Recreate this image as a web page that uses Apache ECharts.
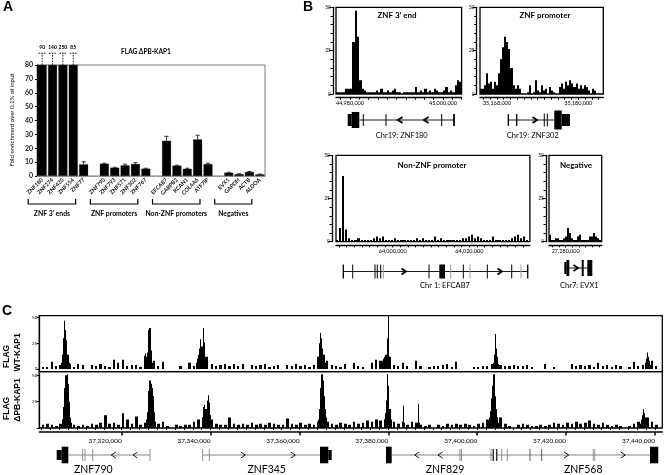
<!DOCTYPE html>
<html><head><meta charset="utf-8">
<script src="https://cdn.jsdelivr.net/npm/echarts@6/dist/echarts.min.js"></script>
<style>html,body{margin:0;padding:0;background:#fff}#c{width:664px;height:475px}</style>
</head><body><div id="c"></div>
<script>
const FONT = 'Lato, "Open Sans", sans-serif';
const ARIAL = '"Liberation Sans", Arial, sans-serif';

// ---------- Panel A data ----------
const aCategories = ['ZNF180','ZNF274','ZNF420','ZNF554','ZNF77',' ','ZNF790','ZNF793','ZNF571','ZNF302','ZNF767','  ','EFCAB7','GABPB2','RCAN1','COL4A6','ATF7IP','   ','EVX1','GAPDH','ACTB','ALDOA'];
const aValues = [90,140,250,85,8.4,'-',8.9,6,7.7,8.7,5.3,'-',25.4,7.5,5.2,26.4,8.6,'-',2.4,1.4,2.9,1.2];
const aErrors = [0,0,0,0,1.8,0,0.3,0.3,0.8,0.9,0.3,0,3.2,0.3,0.4,3.0,0.6,0,0.3,0.2,0.3,0.2];
const aGroupNames = ['ZNF 3\u2019 ends','ZNF promoters','Non-ZNF promoters','Negatives'];
const aGroupRanges = [[0,4],[6,10],[12,16],[18,21]];
const aAxisMax = 80;

// ---------- Panel B data (signal 0-50, bins) ----------
const b1Start = 44977000, b1Bin = 500;
const b1Values = [1,1,1,1,3,3,3,30,48,33,8,3,2,1,1,1,1,2,1,3,1,1,2,1,2,3,1,1,0,1,1,1,1,1,4,1,2,1,3,1,2,1,3,2,1,1,2,4,1,2,1,5,8,7];
const b2Start = 35165500, b2Bin = 300;
const b2Values = [3,3,5,12,6,7,3,7,5,12,20,27,33,30,26,15,5,3,5,3,0,0,0,1,5,0,1,8,2,1,5,2,3,0,4,2,1,0,0,4,6,3,7,5,8,6,4,6,3,5,3,5,4,2,0,3,2,0,0,0,0];
const b3Start = 63985200, b3Bin = 800;
const b3Values = [1,8,38,7,2,1,1,2,1,1,1,1,2,3,2,3,1,1,1,2,1,1,1,1,1,1,2,1,2,1,1,1,3,1,2,1,1,1,1,1,1,2,2,3,4,2,3,2,1,1,1,3,1,1,1,1,1,2,3,4,2,3,1];
const b4Start = 27277500, b4Bin = 300;
const b4Values = [4,1,1,2,2,1,1,2,3,8,5,2,1,1,3,4,1,1,1,1,3,3,5,3,2,1];

// ---------- Panel C data ----------
const cStart = 37302000, cBin = 1000, cPeakStep = 250;
const cWtBackground = [2,2,7,3,4,6,5,2,5,4, 0,4,3,5,3,2,9,6,9,3, 4,4,2,13,12,8,3,7,0,0, 0,3,0,6,3,10,12,12,5,3, 4,5,3,5,3,5,0,4,3,4, 5,2,3,4,0,4,3,5,3,4, 2,4,12,12,8,4,3,2,5,0, 6,3,2,0,6,9,8,12,12,4, 3,6,3,0,8,3,0,2,3,3, 4,5,2,7,0,0,0,2,2,3, 3,5,10,4,3,3,4,3,3,4, 2,0,0,5,0,2,0,0,0,5, 3,4,3,4,2,6,3,4,2,4, 3,0,2,7,3,4,10,8,3];
const cWtPeaks = [
  [37306300,[6,14,30,47,38,28,14,6]],
  [37325000,[8,15,12,16,38,40,18,6]],
  [37336700,[6,10,14,20,29,22,40,26,12,6]],
  [37363900,[5,12,25,35,30,20,14,6,3]],
  [37378600,[8,10,9,14,30,52,12,5]],
  [37403500,[6,14,34,20,12,5,3]],
  [37437700,[6,10,16,12,8,4]]
];
const cDpbBackground = [3,4,3,2,4,6,6,3,2,3, 2,4,3,5,12,4,5,3,14,8, 4,11,3,5,8,8,4,6,2,0, 3,2,3,3,6,8,10,15,8,4, 3,3,10,4,3,4,3,5,3,4, 3,5,4,3,3,9,4,3,5,3, 4,3,6,10,6,4,3,5,4,3, 6,4,5,7,6,8,7,8,10,6, 4,6,3,6,5,3,2,3,0,3, 2,4,3,4,3,4,3,2,4,5, 8,10,10,10,4,2,0,3,4,3, 2,2,3,2,3,5,4,3,5,4, 6,4,5,7,4,3,5,3,2,3, 2,0,2,4,6,8,10,6,3];
const cDpbPeaks = [
  [37306600,[8,20,38,50,51,42,25,10,5]],
  [37325500,[8,15,35,45,42,38,30,15,6]],
  [37338100,[10,20,22,18,26,31,24,12,6]],
  [37364200,[8,18,38,51,45,30,18,10,5]],
  [37379000,[8,14,26,51,40,18,8]],
  [37383000,[6,21,5]],
  [37386400,[4,23,5]],
  [37402400,[6,10,16,28,40,51,30,18,10,5]],
  [37436600,[4,8,12,18,14,10,6,3]]
];

// ---------- Gene models (bp) ----------
const geneZNF180 = [['exon',44979516,44980376,6],['exon',44980376,44982010,8],['line',44982010,45002370],
  ['tick',44982870,44982870,6,1],['tick',44987750,44987750,6,1],['tick',44999725,44999725,6,1],['tick',45002370,45002370,6,1.8],
  ['arrow',44990760,44990760,0,-1],['arrow',44996350,44996350,0,-1]];
const geneZNF302 = [['line',35169677,35176467],['tick',35169677,35169677,6,1.3],['tick',35170917,35170917,6,1.3],
  ['tick',35174990,35174990,6.5,1],['tick',35175433,35175433,6.5,1],
  ['exon',35176467,35177559,9.5],['exon',35177559,35178784,6],['arrow',35173618,35173618,0,1]];
const geneEFCAB7 = [['line',63987105,64035234],['tick',63987105,63987105,7,1.3],['tick',63989559,63989559,7,1],
  ['tick',63995379,63995379,7,1],['tick',63995979,63995979,7,1],['tick',63996867,63996867,7,1],['gtick',63997545,63997545,7,1],
  ['tick',64009473,64009473,7,1],['gtick',64015137,64015137,7,1],['tick',64018425,64018425,7,1],['gtick',64020174,64020174,7,1],
  ['tick',64024689,64024689,7,1],['tick',64031058,64031058,7,1],['gtick',64033485,64033485,7,1],['tick',64035234,64035234,7,1.3],
  ['exon',64012161,64013649,7],['arrow',64002948,64002948,0,1],['arrow',64028004,64028004,0,1]];
const geneEVX1 = [['line',27279795,27283905],['exon',27279795,27280100,6],['exon',27280100,27280545,8],
  ['tick',27282555,27282555,8,2],['exon',27283245,27283995,8],['arrow',27281550,27281550,0,1]];
const geneZNF790 = [['exon',37305375,37306500,5],['exon',37306500,37307985,8.3],['line',37307985,37326368],
  ['gtick',37311225,37311225,6,0.8],['gtick',37311743,37311743,6,0.8],['gtick',37313475,37313475,6,0.8],['gtick',37326368,37326368,6,0.8],
  ['arrow',37318110,37318110,0,-1],['arrow',37322993,37322993,0,-1]];
const geneZNF345 = [['line',37338225,37364618],['gtick',37338225,37338225,6,0.8],['gtick',37339710,37339710,6,0.8],
  ['arrow',37347360,37347360,0,1],['arrow',37358610,37358610,0,1],['exon',37364618,37366485,8.3],['exon',37366485,37367250,5]];
const geneZNF829 = [['exon',37379468,37380750,8.3],['line',37380750,37403610],['arrow',37386375,37386375,0,-1],['arrow',37391618,37391618,0,-1],
  ['gtick',37396118,37396118,6,0.8],['gtick',37396455,37396455,6,0.8],['gtick',37403093,37403093,6,0.8],['tick',37403610,37403610,6,1.5]];
const geneZNF568 = [['line',37404375,37438868],['tick',37404375,37404375,6,1.5],['gtick',37405500,37405500,6,0.8],['gtick',37406760,37406760,6,0.8],
  ['tick',37411868,37411868,6,0.8],['tick',37414500,37414500,6,0.8],['gtick',37426110,37426110,6,0.8],['gtick',37426448,37426448,6,0.8],
  ['arrow',37420125,37420125,0,1],['arrow',37432860,37432860,0,1],['exon',37438868,37440735,8.3]];
const cGeneNames = ['ZNF790','ZNF345','ZNF829','ZNF568'];
const cGeneNamePos = [37313610,37352625,37392743,37423860];

// ---------- axis ranges & tick labels ----------
const b1Range = [44977000,45004000], b1Labels = [44980000,45000000];
const b2Range = [35165500,35183700], b2Labels = [35168000,35180000];
const b3Range = [63985200,64035800], b3Labels = [64000000,64020000];
const b4Range = [27277500,27285400], b4Labels = [27280000];
const cRange = [37301460,37441640], cLabels = [37320000,37340000,37360000,37380000,37400000,37420000,37440000];

function ticksEvery(r, step){ const out=[]; for(let v=Math.ceil(r[0]/step)*step; v<=r[1]; v+=step) out.push(v); return out; }
const fmt = v => String(v).replace(/\B(?=(\d{3})+(?!\d))/g, ',');

const chart = echarts.init(document.getElementById('c'));

const frame = {show:true, borderColor:'#000', borderWidth:1.3, backgroundColor:'transparent'};
const grids = [
  {left:37, top:65, width:228, height:111, show:true, borderColor:'#555', borderWidth:0.8},
  Object.assign({left:336, top:7.3, width:125.6, height:86.7}, frame),
  Object.assign({left:480, top:7.3, width:123.3, height:86.7}, frame),
  Object.assign({left:336, top:155.3, width:193.9, height:86.4}, frame),
  Object.assign({left:549, top:155.3, width:52.7, height:86.4}, frame),
  Object.assign({left:39.3, top:315.6, width:623, height:56.1}, frame),
  Object.assign({left:39.3, top:371.7, width:623, height:56.3}, frame),
  {left:336, top:110, width:125.6, height:20},
  {left:480, top:110, width:123.3, height:20},
  {left:336, top:261.5, width:193.9, height:20},
  {left:549, top:258, width:52.7, height:20},
  {left:39.3, top:445, width:623, height:20}
];

function bX(gi, r, labels, step){
  return {type:'value', gridIndex:gi, min:r[0], max:r[1], position:'bottom', offset:3.7,
    axisLine:{show:true, onZero:false, lineStyle:{color:'#000', width:1.3}},
    axisTick:{show:true, length:2, customValues:ticksEvery(r, step), lineStyle:{color:'#000', width:1}},
    axisLabel:{show:true, customValues:labels, formatter:fmt, fontSize:5.5, margin:2.5, fontFamily:FONT, color:'#000'},
    splitLine:{show:false}};
}
function hiddenX(gi, r){ return {type:'value', gridIndex:gi, min:r[0], max:r[1], show:false, splitLine:{show:false}}; }
function bY(gi, off){
  return {type:'value', gridIndex:gi, min:0, max:50, interval:25, offset:off,
    axisLine:{show:true, lineStyle:{color:'#000', width:1.3}},
    axisTick:{show:true, length:4, lineStyle:{color:'#000', width:1}},
    minorTick:{show:true, splitNumber:5, length:2.5, lineStyle:{color:'#000', width:1}},
    axisLabel:{fontSize:5, margin:2, fontFamily:FONT, color:'#000'},
    splitLine:{show:false}, minorSplitLine:{show:false}};
}
function hiddenY(gi){ return {type:'value', gridIndex:gi, min:-1, max:1, show:false, splitLine:{show:false}}; }

const xAxes = [
  {type:'category', gridIndex:0, data:aCategories, axisLine:{lineStyle:{color:'#999', width:1}}, axisTick:{show:false},
    axisLabel:{rotate:45, interval:0, fontSize:5.5, fontWeight:'bold', margin:3, fontFamily:FONT, color:'#111'}},
  bX(1, b1Range, b1Labels, 2000),
  bX(2, b2Range, b2Labels, 1000),
  bX(3, b3Range, b3Labels, 2000),
  bX(4, b4Range, b4Labels, 1000),
  hiddenX(5, cRange),
  {type:'value', gridIndex:6, min:cRange[0], max:cRange[1], position:'bottom', offset:4,
    axisLine:{show:true, onZero:false, lineStyle:{color:'#000', width:1.5}},
    axisTick:{show:true, length:3.5, customValues:cLabels, lineStyle:{color:'#000', width:1.5}},
    axisLabel:{show:true, customValues:cLabels, formatter:fmt, align:'right', fontSize:6.5, margin:5, fontFamily:FONT, color:'#000'},
    splitLine:{show:false}},
  hiddenX(7, b1Range), hiddenX(8, b2Range), hiddenX(9, b3Range), hiddenX(10, b4Range), hiddenX(11, cRange),
  {type:'value', gridIndex:6, min:cRange[0], max:cRange[1], position:'bottom', offset:4,
    axisLine:{show:false}, axisTick:{show:true, length:2, customValues:ticksEvery(cRange, 2000), lineStyle:{color:'#000', width:1}},
    axisLabel:{show:false}, splitLine:{show:false}}
];
const yAxes = [
  {type:'value', gridIndex:0, min:0, max:aAxisMax, interval:10,
    axisLine:{show:true, lineStyle:{color:'#000', width:1}}, axisTick:{show:true, length:2, lineStyle:{color:'#000'}},
    axisLabel:{fontSize:7, fontWeight:'bold', margin:4, fontFamily:FONT, color:'#222'}, splitLine:{show:false}},
  bY(1,3), bY(2,3.3), bY(3,4), bY(4,3),
  {type:'value', gridIndex:5, min:-2.6, max:52,
    axisLine:{show:true, lineStyle:{color:'#000', width:1.3}},
    axisTick:{show:true, length:2.5, customValues:[0,25,50], lineStyle:{color:'#000'}},
    axisLabel:{customValues:[0,25,50], fontSize:4.5, margin:2, fontFamily:FONT, color:'#000'}, splitLine:{show:false}},
  {type:'value', gridIndex:6, min:0, max:53.4,
    axisLine:{show:true, lineStyle:{color:'#000', width:1.3}},
    axisTick:{show:true, length:2.5, customValues:[0,25,50], lineStyle:{color:'#000'}},
    axisLabel:{customValues:[25,50], fontSize:4.5, margin:2, fontFamily:FONT, color:'#000'}, splitLine:{show:false}},
  hiddenY(7), hiddenY(8), hiddenY(9), hiddenY(10), hiddenY(11)
];

function histSeries(ai, data, frac){
  return {type:'custom', xAxisIndex:ai, yAxisIndex:ai, clip:true, silent:true, data:data,
    renderItem:(p, api)=>{
      const a = api.coord([api.value(0), 0]);
      const b = api.coord([api.value(1), api.value(2)]);
      const x0 = Math.round(a[0]);
      const x1 = frac >= 1 ? Math.round(b[0]) : Math.round(a[0] + (b[0]-a[0])*frac);
      return {type:'rect', shape:{x:x0, y:b[1], width:Math.max(1, x1-x0), height:a[1]-b[1]}, style:{fill:'#000'}};
    }};
}
const binData = (start, bin, vals) => vals.map((v,i)=>[start+i*bin, start+(i+1)*bin, v]);
const peakData = (peaks, step) => { const out=[]; peaks.forEach(([s, vals])=>vals.forEach((v,k)=>out.push([s+k*step, s+(k+1)*step, v]))); return out; };

const KIND = {line:0, exon:1, tick:2, arrow:3, gtick:4};
function geneSeries(ai, feats, o){
  return {type:'custom', xAxisIndex:ai, yAxisIndex:ai, clip:false, silent:true,
    data: feats.map(f=>[f[1], f[2], f[3]||0, KIND[f[0]], f[4]||0]),
    renderItem:(p, api)=>{
      const k = api.value(3);
      const a = api.coord([api.value(0), 0]);
      if (k===0){ const b = api.coord([api.value(1),0]);
        return {type:'line', shape:{x1:a[0], y1:a[1], x2:b[0], y2:b[1]}, style:{stroke:o.lineColor, lineWidth:o.lineWidth}}; }
      if (k===1){ const b = api.coord([api.value(1),0]); const h = api.value(2);
        return {type:'rect', shape:{x:a[0], y:a[1]-h, width:b[0]-a[0], height:2*h}, style:{fill:'#000'}}; }
      if (k===2 || k===4){ const h = api.value(2);
        return {type:'line', shape:{x1:a[0], y1:a[1]-h, x2:a[0], y2:a[1]+h}, style:{stroke:k===4?o.greyTick:o.tickColor, lineWidth:api.value(4)}}; }
      const d = api.value(4);
      return {type:'polyline', shape:{points:[[a[0]-d*2.5, a[1]-3], [a[0]+d*2, a[1]], [a[0]-d*2.5, a[1]+3]]},
        style:{stroke:'#000', fill:null, lineWidth:o.arrowWidth}};
    }};
}
const bGene = {lineColor:'#000', lineWidth:0.9, tickColor:'#000', greyTick:'#999', arrowWidth:1.8};
const cGene = {lineColor:'#777', lineWidth:0.9, tickColor:'#333', greyTick:'#777', arrowWidth:0.9};

const series = [
  {type:'bar', xAxisIndex:0, yAxisIndex:0, data:aValues, barCategoryGap:'13%', clip:true, silent:true,
    itemStyle:{color:'#000', borderColor:'#444', borderWidth:0.3}},
  {type:'custom', xAxisIndex:0, yAxisIndex:0, clip:false, silent:true,
    data: aValues.map((v,i)=>[i,v,aErrors[i]]).filter(d=>d[1]!=='-' && d[1]<=aAxisMax && d[2]>0),
    renderItem:(p, api)=>{
      const t = api.coord([api.value(0), api.value(1)+api.value(2)]);
      const m = api.coord([api.value(0), api.value(1)]);
      return {type:'group', children:[
        {type:'line', shape:{x1:t[0], y1:t[1], x2:m[0], y2:m[1]}, style:{stroke:'#000', lineWidth:0.8}},
        {type:'line', shape:{x1:t[0]-2, y1:t[1], x2:t[0]+2, y2:t[1]}, style:{stroke:'#000', lineWidth:0.8}}]};
    }},
  {type:'custom', xAxisIndex:0, yAxisIndex:0, clip:false, silent:true,
    data: aValues.map((v,i)=>[i,v]).filter(d=>d[1]!=='-' && d[1]>aAxisMax),
    renderItem:(p, api)=>{
      const i = api.value(0);
      const b = api.coord([i, aAxisMax]), t = api.coord([i, 88.5]), l = api.coord([i, 93]);
      return {type:'group', children:[
        {type:'line', shape:{x1:b[0], y1:b[1], x2:t[0], y2:t[1]}, style:{stroke:'#000', lineWidth:0.9, lineDash:[1.6,1.2]}},
        {type:'line', shape:{x1:t[0]-3.5, y1:t[1], x2:t[0]+3.5, y2:t[1]}, style:{stroke:'#000', lineWidth:0.9, lineDash:[1.6,1]}},
        {type:'text', style:{text:String(api.value(1)), x:l[0], y:l[1], align:'center', verticalAlign:'middle', textAlign:'center', textVerticalAlign:'middle', fontSize:5, fontWeight:'bold', fontFamily:FONT, fill:'#000'}}]};
    }},
  {type:'custom', xAxisIndex:0, yAxisIndex:0, clip:false, silent:true,
    data: aGroupRanges.map((g,i)=>[g[0], g[1], i]),
    renderItem:(p, api)=>{
      const a = api.coord([api.value(0), 0]), b = api.coord([api.value(1), 0]);
      const x1 = a[0]-14, x2 = b[0]-8, y = a[1]+28;
      return {type:'group', children:[
        {type:'polyline', shape:{points:[[x1,y-5],[x1,y],[x2,y],[x2,y-5]]}, style:{stroke:'#000', fill:null, lineWidth:1.2}},
        {type:'text', style:{text:aGroupNames[api.value(2)], x:(x1+x2)/2, y:y+10, align:'center', verticalAlign:'middle', textAlign:'center', textVerticalAlign:'middle', fontSize:6.8, fontWeight:'bold', fontFamily:FONT, fill:'#000'}}]};
    }},
  histSeries(1, binData(b1Start, b1Bin, b1Values), 1),
  histSeries(2, binData(b2Start, b2Bin, b2Values), 1),
  histSeries(3, binData(b3Start, b3Bin, b3Values), 0.7),
  histSeries(4, binData(b4Start, b4Bin, b4Values), 1),
  histSeries(5, binData(cStart, cBin, cWtBackground), 0.5),
  histSeries(5, peakData(cWtPeaks, cPeakStep), 1),
  histSeries(6, binData(cStart, cBin, cDpbBackground), 0.6),
  histSeries(6, peakData(cDpbPeaks, cPeakStep), 1),
  geneSeries(7, geneZNF180, bGene),
  geneSeries(8, geneZNF302, bGene),
  geneSeries(9, geneEFCAB7, bGene),
  geneSeries(10, geneEVX1, bGene),
  geneSeries(11, geneZNF790, cGene),
  geneSeries(11, geneZNF345, cGene),
  geneSeries(11, geneZNF829, cGene),
  geneSeries(11, geneZNF568, cGene),
  {type:'custom', xAxisIndex:11, yAxisIndex:11, clip:false, silent:true,
    data: cGeneNamePos.map((v,i)=>[v, i]),
    renderItem:(p, api)=>{
      const a = api.coord([api.value(0), 0]);
      return {type:'text', style:{text:cGeneNames[api.value(1)], x:a[0], y:a[1]+14.5, align:'center', verticalAlign:'middle', textAlign:'center', textVerticalAlign:'middle', fontSize:10.5, fontFamily:FONT, fill:'#000'}};
    }}
];

function txt(text, x, y, size, weight, align, extra){
  return Object.assign({type:'text', x:x, y:y, silent:true, style:{text:text, fontSize:size, fontWeight:weight||'normal', fontFamily:(extra&&extra.family)||FONT, fill:'#000', align:align||'center', verticalAlign:'middle', textAlign:align||'center', textVerticalAlign:'middle'}}, extra&&extra.el||{});
}
const graphics = [
  txt('A', 3, 7, 14, 'bold', 'left', {family:ARIAL}),
  txt('B', 303, 7, 14, 'bold', 'left', {family:ARIAL}),
  txt('C', 2, 311, 14, 'bold', 'left', {family:ARIAL}),
  txt('FLAG \u0394PB-KAP1', 146, 52, 6.5, 'bold'),
  txt('Fold enrichment over 0.1% of input', 12, 120, 6, 'normal', 'center', {el:{rotation:Math.PI/2}}),
  txt('ZNF 3\u2019 end', 397, 15, 8, 'bold'),
  txt('ZNF promoter', 545, 15, 8, 'bold'),
  txt('Non-ZNF promoter', 432, 165, 8, 'bold'),
  txt('Negative', 576, 165, 8, 'bold'),
  txt('Chr19: ZNF180', 401.7, 135.7, 7.5),
  txt('Chr19: ZNF302', 532.7, 135.7, 7.5),
  txt('Chr 1: EFCAB7', 445, 285.7, 7.5),
  txt('Chr7: EVX1', 579.3, 285.7, 7.5),
  txt('FLAG', 6.7, 368, 8.5, 'bold', 'left', {family:ARIAL, el:{rotation:Math.PI/2}}),
  txt('WT-KAP1', 17.5, 371.5, 8.5, 'bold', 'left', {family:ARIAL, el:{rotation:Math.PI/2}}),
  txt('FLAG', 6.7, 420, 8.5, 'bold', 'left', {family:ARIAL, el:{rotation:Math.PI/2}}),
  txt('\u0394PB-KAP1', 17.5, 421.7, 8.5, 'bold', 'left', {family:ARIAL, el:{rotation:Math.PI/2}})
];

chart.setOption({animation:false, backgroundColor:'#fff', grid:grids, xAxis:xAxes, yAxis:yAxes, series:series, graphic:graphics});
</script></body></html>
